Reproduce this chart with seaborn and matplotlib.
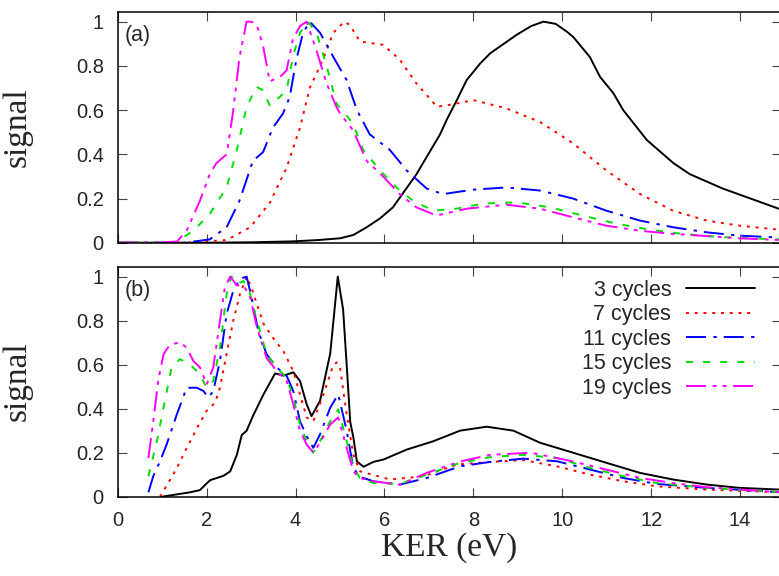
import numpy as np
import pandas as pd
import matplotlib
matplotlib.use("Agg")
import matplotlib.pyplot as plt
import seaborn as sns

# ---- data: panel (a) ----
a3_x = [0, 2.0, 3.0, 3.93, 4.5, 5.0, 5.3, 5.6, 5.9, 6.19, 6.72, 7.25, 7.4, 7.63, 7.85, 8.15, 8.38, 8.97, 9.3, 9.575, 9.85, 10.1, 10.25, 10.62, 10.85, 11.15, 11.37, 11.9, 12.5, 12.87, 13.61, 14.37, 14.92]
a3_y = [0, 0, 0.002, 0.006, 0.012, 0.02, 0.035, 0.07, 0.11, 0.16, 0.31, 0.49, 0.556, 0.646, 0.736, 0.81, 0.857, 0.94, 0.98, 1.0, 0.99, 0.955, 0.93, 0.84, 0.75, 0.676, 0.60, 0.465, 0.36, 0.31, 0.245, 0.19, 0.15]

a7_x = [0, 1.5, 1.85, 2.45, 2.98, 3.42, 3.8, 4.1, 4.32, 4.62, 4.85, 5.1, 5.22, 5.45, 5.97, 6.34, 6.72, 7.18, 7.5, 8.0, 8.74, 9.5, 10.24, 10.99, 11.75, 12.49, 13.25, 13.99, 14.92]
a7_y = [0, 0, 0.005, 0.012, 0.07, 0.18, 0.34, 0.52, 0.70, 0.83, 0.95, 1.0, 0.985, 0.91, 0.895, 0.83, 0.72, 0.615, 0.625, 0.645, 0.608, 0.546, 0.45, 0.327, 0.22, 0.145, 0.10, 0.077, 0.058]

a11_x = [0, 1.5, 1.7, 2.07, 2.45, 2.74, 3.04, 3.27, 3.49, 3.72, 3.87, 4.02, 4.17, 4.32, 4.55, 4.85, 5.15, 5.38, 5.67, 6.12, 6.5, 6.95, 7.32, 7.99, 8.74, 9.5, 10.24, 10.99, 11.75, 12.49, 13.25, 13.99, 14.92]
a11_y = [0, 0, 0.005, 0.015, 0.07, 0.19, 0.37, 0.41, 0.52, 0.585, 0.66, 0.83, 0.95, 1.0, 0.95, 0.84, 0.735, 0.60, 0.49, 0.42, 0.327, 0.245, 0.22, 0.24, 0.25, 0.236, 0.20, 0.145, 0.10, 0.07, 0.047, 0.032, 0.023]

a15_x = [0, 1.0, 1.33, 1.7, 2.07, 2.45, 2.68, 2.9, 3.12, 3.27, 3.42, 3.65, 3.8, 3.94, 4.1, 4.28, 4.47, 4.7, 4.92, 5.29, 5.52, 5.9, 6.27, 6.64, 7.1, 7.62, 8.22, 8.97, 9.72, 10.46, 11.22, 11.97, 12.7, 13.47, 14.2, 14.92]
a15_y = [0, 0, 0.005, 0.054, 0.13, 0.25, 0.42, 0.614, 0.705, 0.69, 0.62, 0.66, 0.69, 0.84, 0.95, 1.0, 0.95, 0.80, 0.63, 0.54, 0.42, 0.327, 0.25, 0.19, 0.145, 0.154, 0.177, 0.183, 0.16, 0.123, 0.086, 0.059, 0.04, 0.027, 0.02, 0.015]

a19_x = [0, 0.72, 1.33, 1.55, 1.85, 2.07, 2.22, 2.45, 2.59, 2.74, 2.9, 3.0, 3.12, 3.27, 3.42, 3.65, 3.8, 3.94, 4.1, 4.25, 4.47, 4.7, 4.92, 5.0, 5.29, 5.6, 5.97, 6.34, 6.72, 7.17, 7.85, 8.74, 9.5, 10.24, 10.99, 11.75, 12.49, 13.25, 13.99, 14.92]
a19_y = [0, 0, 0.005, 0.054, 0.19, 0.31, 0.36, 0.40, 0.585, 0.84, 1.0, 1.0, 0.99, 0.89, 0.73, 0.75, 0.78, 0.92, 0.98, 1.0, 0.87, 0.72, 0.614, 0.585, 0.51, 0.37, 0.30, 0.22, 0.16, 0.123, 0.154, 0.172, 0.154, 0.115, 0.077, 0.054, 0.04, 0.03, 0.02, 0.012]

# ---- data: panel (b) ----
b3_x = [1.0, 1.63, 1.85, 2.0, 2.08, 2.38, 2.53, 2.68, 2.79, 2.9, 3.05, 3.28, 3.54, 3.73, 3.95, 4.1, 4.25, 4.36, 4.55, 4.78, 4.95, 5.07, 5.15, 5.23, 5.3, 5.38, 5.53, 5.75, 5.98, 6.5, 7.1, 7.7, 8.3, 8.9, 9.5, 10.24, 10.99, 11.75, 12.49, 13.25, 13.99, 14.92]
b3_y = [0.0, 0.02, 0.03, 0.06, 0.075, 0.095, 0.115, 0.19, 0.28, 0.30, 0.37, 0.465, 0.56, 0.55, 0.565, 0.526, 0.42, 0.366, 0.435, 0.65, 1.0, 0.85, 0.60, 0.34, 0.27, 0.16, 0.136, 0.158, 0.169, 0.214, 0.252, 0.30, 0.318, 0.30, 0.245, 0.20, 0.154, 0.108, 0.078, 0.055, 0.04, 0.032]

b7_x = [0.95, 1.1, 1.33, 1.55, 1.78, 2.0, 2.19, 2.3, 2.45, 2.6, 2.75, 2.9, 3.01, 3.13, 3.28, 3.5, 3.73, 3.95, 4.1, 4.25, 4.4, 4.63, 4.85, 4.93, 5.0, 5.15, 5.3, 5.45, 6.13, 6.88, 7.63, 8.38, 9.12, 9.88, 10.63, 11.37, 12.13, 13.25, 14.92]
b7_y = [0.0, 0.05, 0.13, 0.22, 0.31, 0.39, 0.427, 0.495, 0.65, 0.80, 0.92, 1.0, 0.95, 0.875, 0.785, 0.72, 0.66, 0.57, 0.465, 0.36, 0.343, 0.465, 0.60, 0.61, 0.587, 0.374, 0.19, 0.115, 0.078, 0.093, 0.146, 0.158, 0.166, 0.138, 0.10, 0.07, 0.047, 0.032, 0.02]

b11_x = [0.69, 0.8, 0.95, 1.1, 1.33, 1.55, 1.78, 1.93, 2.04, 2.15, 2.3, 2.45, 2.6, 2.75, 2.9, 3.01, 3.16, 3.35, 3.58, 3.8, 3.95, 4.1, 4.25, 4.4, 4.55, 4.78, 4.96, 5.15, 5.3, 5.45, 5.75, 6.35, 6.95, 7.7, 8.38, 9.12, 9.88, 10.63, 11.37, 12.13, 13.25, 14.92]
b11_y = [0.02, 0.093, 0.16, 0.237, 0.374, 0.495, 0.495, 0.48, 0.45, 0.48, 0.617, 0.83, 0.936, 0.99, 1.0, 0.906, 0.754, 0.647, 0.587, 0.549, 0.48, 0.343, 0.275, 0.222, 0.283, 0.404, 0.465, 0.30, 0.13, 0.09, 0.07, 0.055, 0.085, 0.138, 0.158, 0.173, 0.161, 0.123, 0.085, 0.058, 0.04, 0.02]

b15_x = [0.69, 0.88, 1.03, 1.21, 1.4, 1.63, 1.85, 2.0, 2.15, 2.3, 2.45, 2.56, 2.68, 2.83, 2.98, 3.13, 3.35, 3.58, 3.8, 3.95, 4.1, 4.25, 4.4, 4.55, 4.78, 4.96, 5.15, 5.3, 5.45, 5.75, 6.35, 6.95, 7.7, 8.38, 9.12, 9.88, 10.63, 11.37, 12.13, 13.25, 14.92]
b15_y = [0.093, 0.25, 0.404, 0.587, 0.625, 0.60, 0.556, 0.495, 0.526, 0.678, 0.92, 1.0, 0.967, 0.98, 0.92, 0.80, 0.647, 0.587, 0.54, 0.45, 0.328, 0.252, 0.20, 0.252, 0.343, 0.397, 0.252, 0.13, 0.085, 0.062, 0.058, 0.10, 0.154, 0.18, 0.19, 0.176, 0.13, 0.093, 0.062, 0.04, 0.02]

b19_x = [0.69, 0.8, 0.91, 1.03, 1.18, 1.4, 1.55, 1.7, 1.85, 2.0, 2.15, 2.3, 2.41, 2.53, 2.68, 2.83, 2.98, 3.13, 3.35, 3.58, 3.8, 3.95, 4.1, 4.25, 4.4, 4.55, 4.78, 4.96, 5.15, 5.3, 5.45, 5.75, 6.35, 6.95, 7.7, 8.38, 9.3, 10.24, 10.99, 11.75, 12.49, 13.25, 14.92]
b19_y = [0.176, 0.343, 0.526, 0.647, 0.693, 0.70, 0.678, 0.617, 0.587, 0.51, 0.587, 0.80, 0.95, 1.0, 0.96, 0.96, 0.906, 0.77, 0.63, 0.57, 0.526, 0.42, 0.30, 0.237, 0.20, 0.245, 0.328, 0.36, 0.222, 0.115, 0.085, 0.07, 0.055, 0.108, 0.16, 0.19, 0.20, 0.16, 0.123, 0.085, 0.062, 0.043, 0.02]

labels = ["3 cycles", "7 cycles", "11 cycles", "15 cycles", "19 cycles"]
colors = ["black", "#ff0000", "#0000ff", "#00dd00", "#ff00ff"]
# dash patterns in units of line width (gnuplot-like)
styles = ["-", (0, (1.5, 3)), (0, (10.3, 3.8, 1.7, 3.6)), (0, (3.6, 5.2)),
          (0, (10.3, 3.4, 2, 3.1, 2, 3.4))]
yticks = [0, 0.2, 0.4, 0.6, 0.8, 1]
ytick_labels = ["0", "0.2", "0.4", "0.6", "0.8", "1"]
xticks = [0, 2, 4, 6, 8, 10, 12, 14]

panel_a = [(a3_x, a3_y), (a7_x, a7_y), (a11_x, a11_y), (a15_x, a15_y), (a19_x, a19_y)]
panel_b = [(b3_x, b3_y), (b7_x, b7_y), (b11_x, b11_y), (b15_x, b15_y), (b19_x, b19_y)]

sns.set_theme(style="ticks")
plt.rcParams["font.family"] = ["Liberation Sans", "DejaVu Sans"]
plt.rcParams["axes.linewidth"] = 1.1

fig = plt.figure(figsize=(7.79, 5.76), dpi=100)
ax_a = fig.add_axes([0.1511, 0.5786, 0.8515, 0.4011])
ax_b = fig.add_axes([0.1511, 0.1377, 0.8515, 0.3993])

for ax, series, tag in [(ax_a, panel_a, "(a)"), (ax_b, panel_b, "(b)")]:
    for (xs, ys), lab, col, ls in zip(series, labels, colors, styles):
        df = pd.DataFrame({"KER": xs, "signal": ys})
        sns.lineplot(data=df, x="KER", y="signal", ax=ax, color=col, lw=1.4,
                     linestyle=ls, label=lab, legend=False, estimator=None)
    ax.set_xlim(0, 14.92)
    ax.set_ylim(0, 1.045)
    ax.set_yticks(yticks)
    ax.set_yticklabels(ytick_labels)
    ax.set_xticks(xticks)
    ax.tick_params(direction="in", top=True, right=True, length=6.5, width=0.8,
                   labelsize=14.5, pad=10, color="#444444")
    ax.set_ylabel("signal", family="Liberation Serif", fontsize=24)
    ax.yaxis.set_label_coords(-0.128, 0.5)
    ax.text(0.011, 0.898, tag, transform=ax.transAxes, ha="left", va="center",
            fontsize=15.5)
    for s in ax.spines.values():
        s.set_color("black")

ax_a.set_xlabel("")
ax_a.tick_params(labelbottom=False)
ax_b.set_xlabel("KER (eV)", family="Liberation Serif", fontsize=24, labelpad=2)

ax_b.legend(loc="upper right", bbox_to_anchor=(0.961, 0.943), frameon=False,
            markerfirst=False, fontsize=15.5, handlelength=3.2, handletextpad=0.7,
            labelspacing=0.16, borderpad=0, borderaxespad=0)
for t in ax_b.get_legend().get_texts():
    t.set_ha("right")

fig.savefig("out.png", dpi=100)
